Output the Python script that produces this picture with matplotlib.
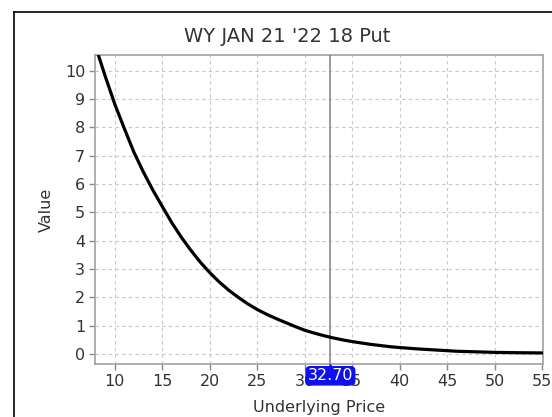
import matplotlib
matplotlib.use("Agg")
import matplotlib.pyplot as plt
import matplotlib.transforms as mtrans
from matplotlib.lines import Line2D

title = "WY JAN 21 '22 18 Put"
x_label = "Underlying Price"
y_label = "Value"
current_price = 32.70

price = [8.25, 9, 10, 11, 12, 13, 14, 15, 16, 17, 18, 19, 20, 21, 22, 23, 24, 25,
         26, 27, 28, 29, 30, 31, 32, 33, 34, 35, 36, 37, 38, 39, 40, 42, 44, 46,
         48, 50, 52, 55]
value = [10.55, 9.78, 8.80, 7.95, 7.12, 6.42, 5.78, 5.20, 4.63, 4.12, 3.66, 3.24,
         2.87, 2.54, 2.25, 2.00, 1.77, 1.57, 1.40, 1.25, 1.11, 0.97, 0.84, 0.74,
         0.65, 0.57, 0.50, 0.44, 0.39, 0.34, 0.30, 0.26, 0.23, 0.18, 0.14, 0.10,
         0.08, 0.06, 0.05, 0.04]
x_ticks = [10, 15, 20, 25, 30, 35, 40, 45, 50, 55]
y_ticks = [0, 1, 2, 3, 4, 5, 6, 7, 8, 9, 10]

W, H = 552, 417
fig = plt.figure(figsize=(W / 100, H / 100), dpi=100)
fig.patch.set_facecolor("white")

# outer black frame (left and top edges visible)
fx, fy = 14 / W, 1 - 12 / H
fig.add_artist(Line2D([fx, fx], [0, fy], transform=fig.transFigure, color="black", lw=1.2))
fig.add_artist(Line2D([fx, 1], [fy, fy], transform=fig.transFigure, color="black", lw=1.2))

left, right, top, bottom = 95, 543, 55, 364
ax = fig.add_axes([left / W, 1 - bottom / H, (right - left) / W, (bottom - top) / H])

ax.plot(price, value, color="black", lw=2.3, solid_capstyle="round",
        solid_joinstyle="round", zorder=3)
ax.axvline(current_price, color="#808080", lw=1.1, zorder=2.6)

ax.set_xlim(7.9, 55.1)
ax.set_ylim(-0.35, 10.55)
ax.set_xticks(x_ticks)
ax.set_yticks(y_ticks)

ax.grid(True, color="#c8c8c8", lw=0.8, linestyle=(0, (3, 3)))
ax.set_axisbelow(True)
for s in ax.spines.values():
    s.set_color("#a8a8a8")
    s.set_linewidth(1.3)

ax.tick_params(axis="both", colors="#888888", length=4, width=1, labelcolor="#333333",
               labelsize=11.5, pad=3)

ax.set_xlabel(x_label, fontsize=11.5, color="#333333", labelpad=8)
ax.set_ylabel(y_label, fontsize=11.5, color="#333333", labelpad=8)

fig.text(287 / W, 1 - 36 / H, title, ha="center", va="center", fontsize=14, color="#333333")

# current price marker label
ax.annotate(f"{current_price:.2f}", xy=(current_price, 0), xycoords=ax.get_xaxis_transform(),
            xytext=(0, -8.5), textcoords="offset points", ha="center", va="center",
            fontsize=11.5, color="white", zorder=6, annotation_clip=False,
            bbox=dict(boxstyle="round,pad=0.1,rounding_size=0.25", fc="#1010ee", ec="#1010ee"))
tri, = ax.plot([current_price], [0], marker="^", ms=5, color="#1010ee",
               clip_on=False, zorder=6)
tri.set_transform(ax.get_xaxis_transform() +
                  mtrans.ScaledTranslation(0, -2.5 / 72, fig.dpi_scale_trans))

fig.savefig("out.png", dpi=100)
